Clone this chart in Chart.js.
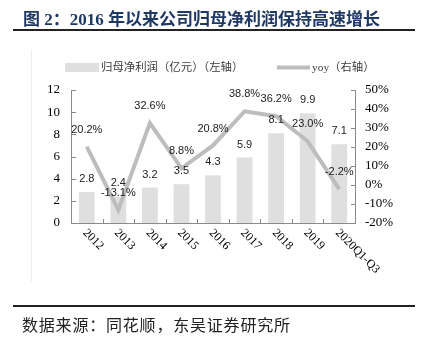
<!DOCTYPE html>
<html>
<head>
<meta charset="utf-8">
<script src="https://cdn.jsdelivr.net/npm/chart.js@4"></script>
<style>
  body { margin: 0; background: #fff; }
  #wrap { position: relative; width: 424px; height: 344px; overflow: hidden; }
  #chart { position: absolute; left: 0; top: 0; }
  .title {
    position: absolute; left: 23px; top: 5px; line-height: 20px;
    font: bold 17px "Liberation Serif", "Noto Sans CJK SC", serif;
    color: #1f3864; white-space: nowrap;
  }
  .rule { position: absolute; left: 13px; width: 402px; height: 2px; background: #222; }
  .source {
    position: absolute; left: 22px; top: 312px; line-height: 20px;
    font: 16px "Noto Sans CJK SC", sans-serif; letter-spacing: 0.8px;
    color: #222; white-space: nowrap;
  }
</style>
</head>
<body>
<div id="wrap">
  <canvas id="chart" width="424" height="344"></canvas>
  <div class="title">图 2：2016 年以来公司归母净利润保持高速增长</div>
  <div class="rule" style="top:29px"></div>
  <div class="rule" style="top:305px"></div>
  <div class="source">数据来源：同花顺，东吴证券研究所</div>
</div>
<script>
const years = ['2012', '2013', '2014', '2015', '2016', '2017', '2018', '2019', '2020Q1-Q3'];
const netProfit = [2.8, 2.4, 3.2, 3.5, 4.3, 5.9, 8.1, 9.9, 7.1];   // 亿元
const yoy = [20.2, -13.1, 32.6, 8.8, 20.8, 38.8, 36.2, 23.0, -2.2]; // %
const leftTicks = [0, 12, 2];
const rightTicks = [-20, 50, 10];

const barColor = '#dfdfdf';
const lineColor = '#bdbdbd';
const axisColor = '#8a8a8a';

// axes, rotated year labels, value labels and legend are painted by hand
const decorations = {
  id: 'decorations',
  beforeDraw(chart) {
    const ctx = chart.ctx;
    ctx.save();
    ctx.strokeStyle = '#ededed';
    ctx.lineWidth = 1;
    ctx.beginPath();
    ctx.moveTo(31.5, 50);
    ctx.lineTo(31.5, 282);
    ctx.stroke();
    ctx.restore();
  },
  afterDatasetsDraw(chart) {
    const ctx = chart.ctx;
    const area = chart.chartArea;
    const x = chart.scales.x;
    const yL = chart.scales.yL;
    const yR = chart.scales.yR;
    ctx.save();

    // axis lines with inward ticks
    ctx.strokeStyle = axisColor;
    ctx.lineWidth = 1;
    ctx.beginPath();
    ctx.moveTo(area.left + 0.5, area.top);
    ctx.lineTo(area.left + 0.5, area.bottom + 0.5);
    ctx.lineTo(area.right + 0.5, area.bottom + 0.5);
    ctx.lineTo(area.right + 0.5, area.top);
    yL.ticks.forEach(t => {
      const py = Math.round(yL.getPixelForValue(t.value)) + 0.5;
      ctx.moveTo(area.left, py);
      ctx.lineTo(area.left + 5, py);
    });
    yR.ticks.forEach(t => {
      const py = Math.round(yR.getPixelForValue(t.value)) + 0.5;
      ctx.moveTo(area.right - 4, py);
      ctx.lineTo(area.right + 1, py);
    });
    const step = (area.right - area.left) / years.length;
    for (let i = 1; i < years.length; i++) {
      const px = Math.round(area.left + i * step) + 0.5;
      ctx.moveTo(px, area.bottom);
      ctx.lineTo(px, area.bottom - 4);
    }
    ctx.stroke();

    // category labels, rotated 45° clockwise
    ctx.fillStyle = '#000';
    ctx.font = '12px "Liberation Serif", serif';
    ctx.textAlign = 'left';
    ctx.textBaseline = 'middle';
    years.forEach((label, i) => {
      const px = x.getPixelForValue(i);
      ctx.save();
      ctx.translate(px - 2, area.bottom + 8);
      ctx.rotate(Math.PI / 4);
      ctx.fillText(label, 0, 0);
      ctx.restore();
    });

    // value labels
    ctx.font = '11px "Liberation Sans", Arial, sans-serif';
    ctx.fillStyle = '#222';
    ctx.textAlign = 'center';
    chart.getDatasetMeta(1).data.forEach((el, i) => {
      ctx.fillText(netProfit[i].toFixed(1), el.x, el.y - 13);
    });
    chart.getDatasetMeta(0).data.forEach((el, i) => {
      ctx.fillText(yoy[i].toFixed(1) + '%', el.x, el.y - 17);
    });

    // legend
    const ly = 67;
    ctx.fillStyle = barColor;
    ctx.fillRect(65, ly - 4, 34, 9);
    ctx.strokeStyle = lineColor;
    ctx.lineWidth = 4;
    ctx.beginPath();
    ctx.moveTo(277, ly + 0.5);
    ctx.lineTo(310, ly + 0.5);
    ctx.stroke();
    ctx.fillStyle = '#3a3a3a';
    ctx.textAlign = 'left';
    ctx.font = '11.4px "Liberation Serif", "Noto Sans CJK SC", serif';
    ctx.fillText('归母净利润（亿元）（左轴）', 101, ly + 1);
    ctx.fillText('yoy（右轴）', 312, ly + 1);

    ctx.restore();
  }
};

new Chart(document.getElementById('chart'), {
  data: {
    labels: years,
    datasets: [
      {
        type: 'line',
        label: 'yoy（右轴）',
        data: yoy,
        yAxisID: 'yR',
        borderColor: lineColor,
        borderWidth: 4,
        pointRadius: 0,
        tension: 0,
        order: 0
      },
      {
        type: 'bar',
        label: '归母净利润（亿元）（左轴）',
        data: netProfit,
        yAxisID: 'yL',
        backgroundColor: barColor,
        barPercentage: 0.5,
        categoryPercentage: 1,
        order: 1
      }
    ]
  },
  options: {
    responsive: false,
    animation: false,
    layout: { padding: { top: 90, left: 0, right: 0, bottom: 0 } },
    plugins: { legend: { display: false }, tooltip: { enabled: false } },
    scales: {
      x: {
        grid: { display: false },
        border: { display: false },
        ticks: { display: false },
        afterFit(scale) { scale.height = 121; }
      },
      yL: {
        position: 'left',
        min: leftTicks[0],
        max: leftTicks[1],
        grid: { display: false, drawTicks: false },
        border: { display: false },
        ticks: {
          stepSize: leftTicks[2],
          padding: 11,
          color: '#000',
          font: { family: '"Liberation Serif", serif', size: 13 }
        },
        afterFit(scale) { scale.width = 71; }
      },
      yR: {
        position: 'right',
        min: rightTicks[0],
        max: rightTicks[1],
        grid: { display: false, drawTicks: false },
        border: { display: false },
        ticks: {
          stepSize: rightTicks[2],
          padding: 10,
          color: '#000',
          font: { family: '"Liberation Serif", serif', size: 13 },
          callback: v => v + '%'
        },
        afterFit(scale) { scale.width = 69; }
      }
    }
  },
  plugins: [decorations]
});
</script>
</body>
</html>
